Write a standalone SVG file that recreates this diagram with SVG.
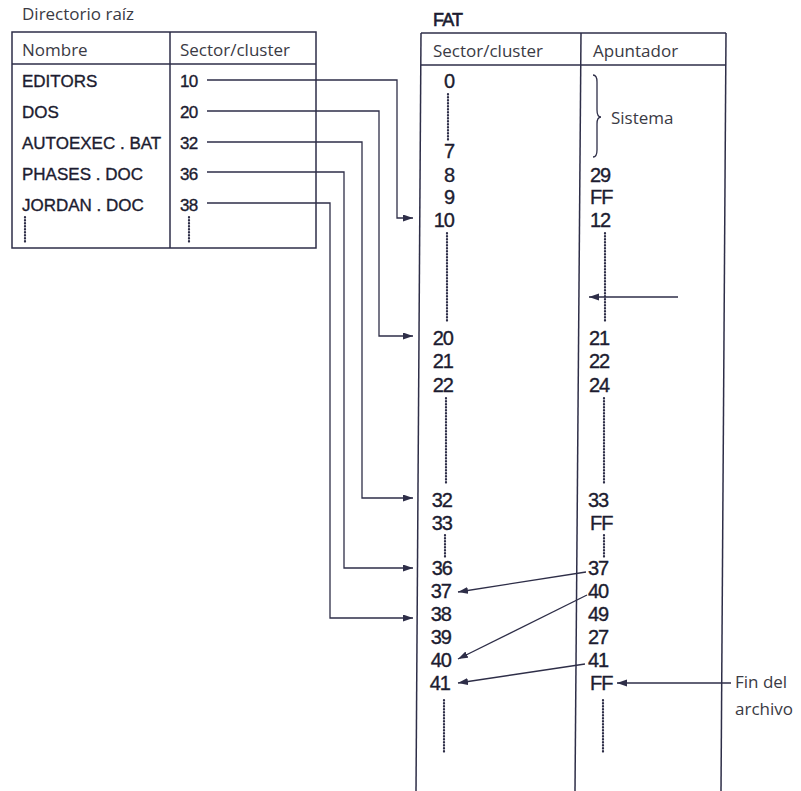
<svg xmlns="http://www.w3.org/2000/svg" width="801" height="791" viewBox="0 0 801 791">
<style>
.lbl{font-family:"Open Sans","DejaVu Sans",sans-serif;font-size:17px;fill:#3a3a44}
.ent{font-family:"Liberation Sans",Arial,sans-serif;font-size:17px;fill:#1c1c30;stroke:#1c1c30;stroke-width:0.35}
.num{font-family:"Liberation Sans",Arial,sans-serif;font-size:20px;fill:#1c1c30;stroke:#1c1c30;stroke-width:0.35;letter-spacing:-1px}
.end{text-anchor:end}
.frame{fill:none;stroke:#2e2e48;stroke-width:1.5}
.conn{fill:none;stroke:#2e2e48;stroke-width:1.3}
.dots{fill:none;stroke:#2e2e48;stroke-width:2.2;stroke-dasharray:0.6 2.4;stroke-linecap:round}
</style>
<defs>
<marker id="ah" markerUnits="userSpaceOnUse" markerWidth="11" markerHeight="8" refX="10" refY="3.5" orient="auto">
<path d="M0,0 L10,3.5 L0,7 z" fill="#2e2e48"/>
</marker>
</defs>
<rect width="801" height="791" fill="#ffffff"/>

<g id="directorio">
<text class="lbl" x="22" y="20">Directorio raíz</text>
<rect class="frame" x="12" y="32" width="304" height="216"/>
<line class="frame" x1="12" y1="64" x2="316" y2="64"/>
<line class="frame" x1="170" y1="32" x2="170" y2="248"/>
<text class="lbl" x="22" y="56">Nombre</text>
<text class="lbl" x="180" y="56">Sector/cluster</text>
<text class="ent" x="22" y="87">EDITORS</text>
<text class="ent" x="22" y="118">DOS</text>
<text class="ent" x="22" y="149">AUTOEXEC . BAT</text>
<text class="ent" x="22" y="180">PHASES . DOC</text>
<text class="ent" x="22" y="211">JORDAN . DOC</text>
<text class="ent" x="180" y="87" style="letter-spacing:-0.8px">10</text>
<text class="ent" x="180" y="118" style="letter-spacing:-0.8px">20</text>
<text class="ent" x="180" y="149" style="letter-spacing:-0.8px">32</text>
<text class="ent" x="180" y="180" style="letter-spacing:-0.8px">36</text>
<text class="ent" x="180" y="211" style="letter-spacing:-0.8px">38</text>
<line class="dots" x1="25" y1="217" x2="25" y2="244"/>
<line class="dots" x1="189" y1="217" x2="189" y2="244"/>
</g>

<g id="fat">
<text class="num" x="433" y="26" style="font-size:18px;letter-spacing:-0.8px;stroke-width:0.6">FAT</text>
<line class="frame" x1="421" y1="33" x2="726" y2="33"/>
<line class="frame" x1="421" y1="65" x2="726" y2="65"/>
<line class="frame" x1="421" y1="33" x2="416" y2="791"/>
<line class="frame" x1="581" y1="33" x2="575" y2="791"/>
<line class="frame" x1="726" y1="33" x2="721" y2="791"/>
<text class="lbl" x="433" y="57">Sector/cluster</text>
<text class="lbl" x="593" y="57">Apuntador</text>

<text class="num end" x="454" y="88">0</text>
<text class="num end" x="454" y="158">7</text>
<text class="num end" x="454" y="182">8</text>
<text class="num end" x="454" y="204">9</text>
<text class="num end" x="454" y="227">10</text>
<text class="num end" x="453" y="345">20</text>
<text class="num end" x="453" y="368">21</text>
<text class="num end" x="453" y="392">22</text>
<text class="num end" x="452" y="507">32</text>
<text class="num end" x="452" y="530">33</text>
<text class="num end" x="452" y="575">36</text>
<text class="num end" x="451" y="598">37</text>
<text class="num end" x="451" y="621">38</text>
<text class="num end" x="451" y="644">39</text>
<text class="num end" x="451" y="667">40</text>
<text class="num end" x="450" y="690">41</text>

<text class="num" x="590" y="182">29</text>
<text class="num" x="590" y="204">FF</text>
<text class="num" x="590" y="227">12</text>
<text class="num" x="589" y="345">21</text>
<text class="num" x="589" y="368">22</text>
<text class="num" x="589" y="392">24</text>
<text class="num" x="588" y="507">33</text>
<text class="num" x="590" y="530">FF</text>
<text class="num" x="588" y="575">37</text>
<text class="num" x="588" y="598">40</text>
<text class="num" x="588" y="621">49</text>
<text class="num" x="588" y="644">27</text>
<text class="num" x="588" y="667">41</text>
<text class="num" x="590" y="690">FF</text>

<line class="dots" x1="448" y1="94" x2="448" y2="141"/>
<line class="dots" x1="447" y1="233" x2="447" y2="323"/>
<line class="dots" x1="446" y1="398" x2="446" y2="483"/>
<line class="dots" x1="445" y1="535" x2="445" y2="557"/>
<line class="dots" x1="444" y1="700" x2="444" y2="753"/>
<line class="dots" x1="605" y1="233" x2="605" y2="323"/>
<line class="dots" x1="604" y1="398" x2="604" y2="483"/>
<line class="dots" x1="604" y1="535" x2="604" y2="557"/>
<line class="dots" x1="603" y1="700" x2="603" y2="753"/>

<path class="conn" d="M593,75 Q597,75 597,82 V110 Q597,117 601,117 Q597,117 597,124 V150 Q597,157 593,157"/>
<text class="lbl" x="611" y="124">Sistema</text>
<text class="lbl" x="735" y="688">Fin del</text>
<text class="lbl" x="735" y="715">archivo</text>
</g>

<g id="connectors">
<path class="conn" d="M207,80 H397 V218 H413" marker-end="url(#ah)"/>
<path class="conn" d="M207,111 H379 V336 H413" marker-end="url(#ah)"/>
<path class="conn" d="M207,142 H362 V498 H413" marker-end="url(#ah)"/>
<path class="conn" d="M207,172 H344 V568 H413" marker-end="url(#ah)"/>
<path class="conn" d="M207,203 H330 V618 H413" marker-end="url(#ah)"/>
<path class="conn" d="M678,297 H589" marker-end="url(#ah)"/>
<path class="conn" d="M586,572 L458,592" marker-end="url(#ah)"/>
<path class="conn" d="M587,595 L458,659" marker-end="url(#ah)"/>
<path class="conn" d="M585,664 L458,683" marker-end="url(#ah)"/>
<path class="conn" d="M731,683 H617" marker-end="url(#ah)"/>
</g>
</svg>
